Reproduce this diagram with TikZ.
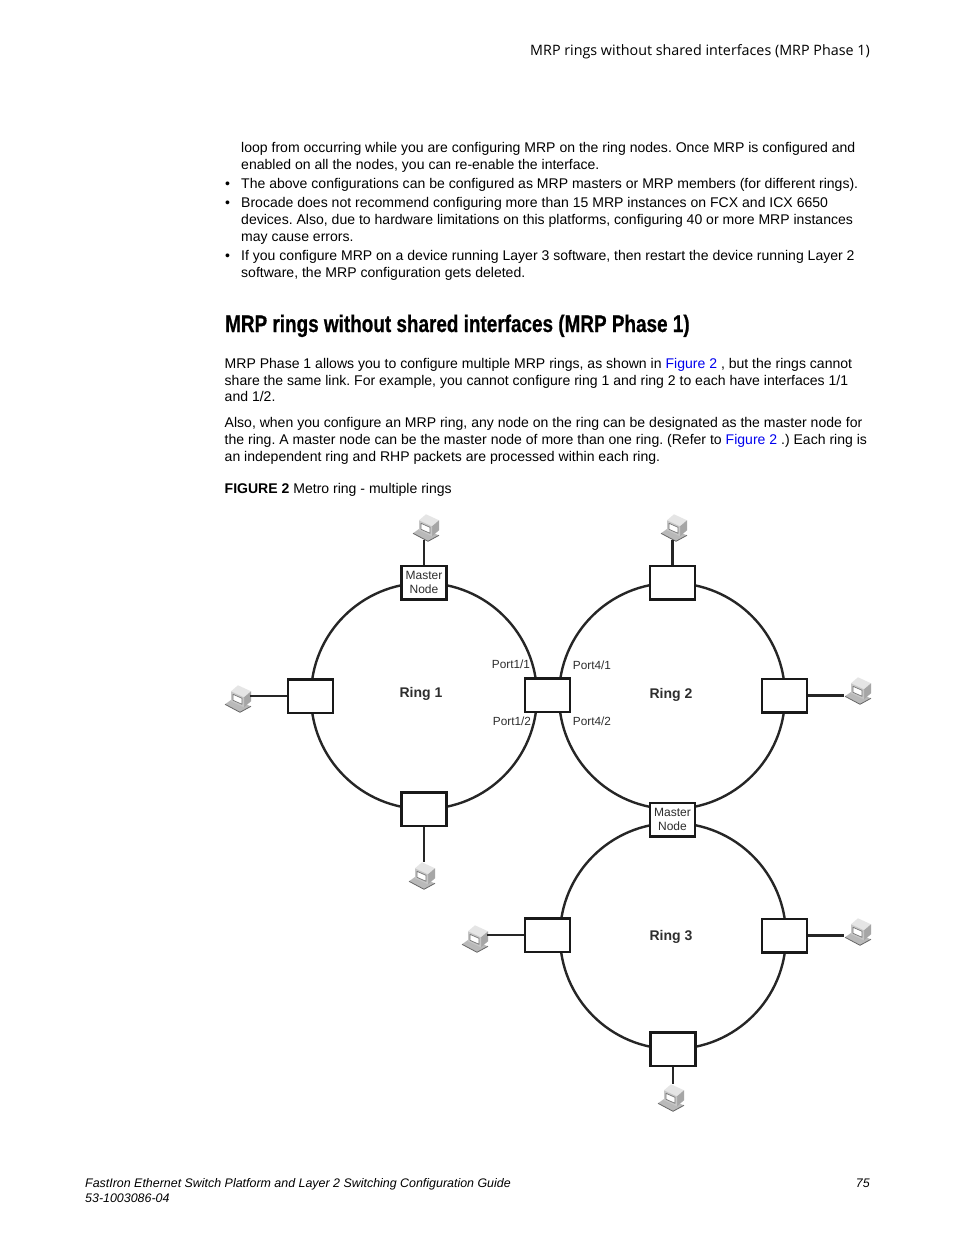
\documentclass[tikz,border=0pt]{standalone}
\usepackage{fontspec}
\setmainfont{Liberation Sans}
\newfontfamily\headfont{Open Sans}
\newfontfamily\titlefont[BoldFont={Liberation Sans Bold},BoldFeatures={FakeBold=0.8}]{Liberation Sans}
\definecolor{linkblue}{RGB}{0,0,238}
\definecolor{lbl}{RGB}{45,45,45}
\newsavebox{\pcicon}
\sbox{\pcicon}{\begin{tikzpicture}[x=1pt,y=-1pt,line join=round]
\fill[gray!55] (-14,6) -- (-7,1) -- (12,8) -- (1,14) -- cycle;
\draw[gray!80!black,line width=.8pt] (-14,6) -- (1,14) -- (12,8);
\fill[gray!20] (-8,-7) -- (-1,-13) -- (12,-7) -- (5,-1) -- cycle;
\fill[gray!70] (5,-1) -- (12,-7) -- (12,3) -- (5,9) -- cycle;
\fill[gray!45] (-8,-7) -- (5,-1) -- (5,9) -- (-8,3) -- cycle;
\fill[white,draw=gray!90!black,line width=.7pt] (-6,-4) -- (3,0) -- (3,6) -- (-6,2) -- cycle;
\end{tikzpicture}}
\tikzset{
 bodytext/.style={anchor=base west,inner sep=0pt,font=\fontsize{14.04}{17}\selectfont\frenchspacing},
 headtext/.style={anchor=base east,inner sep=0pt,font=\headfont\fontsize{14.32}{17}\selectfont},
 foottext/.style={anchor=base west,inner sep=0pt,font=\fontsize{12.43}{15}\selectfont\itshape},
 titletext/.style={anchor=base west,inner sep=0pt,font=\titlefont\fontsize{24}{28}\selectfont\bfseries},
 ring/.style={circle,draw=black!85,line width=2.4pt,minimum size=226pt,inner sep=0pt},
 device/.style={rectangle,draw=black!90,fill=white,line width=2.5pt,minimum width=45pt,minimum height=33.5pt,inner sep=0pt,align=center,text=lbl,font=\fontsize{12}{14}\selectfont},
 link/.style={draw=black!85,line width=2.4pt},
 pc/.style={inner sep=0pt},
 ringlabel/.style={inner sep=0pt,text=lbl,font=\fontsize{14}{17}\selectfont\bfseries},
 portlabel/.style={inner sep=0pt,text=lbl,font=\fontsize{11.8}{14}\selectfont},
}
\begin{document}
\begin{tikzpicture}[x=1pt,y=-1pt]
\useasboundingbox[fill=white] (0,0) rectangle (954,1235);
% page text
\node[headtext] (h1) at (870,55) {MRP rings without shared interfaces (MRP Phase 1)};
\node[bodytext] (t1) at (241,152) {loop from occurring while you are configuring MRP on the ring nodes. Once MRP is configured and};
\node[bodytext] (t2) at (241,169) {enabled on all the nodes, you can re-enable the interface.};
\node[bodytext] (b1) at (225,188) {•};
\node[bodytext] (t3) at (241,188) {The above configurations can be configured as MRP masters or MRP members (for different rings).};
\node[bodytext] (b2) at (225,207) {•};
\node[bodytext] (t4) at (241,207) {Brocade does not recommend configuring more than 15 MRP instances on FCX and ICX 6650};
\node[bodytext] (t5) at (241,224) {devices. Also, due to hardware limitations on this platforms, configuring 40 or more MRP instances};
\node[bodytext] (t6) at (241,241) {may cause errors.};
\node[bodytext] (b3) at (225,260) {•};
\node[bodytext] (t7) at (241,260) {If you configure MRP on a device running Layer 3 software, then restart the device running Layer 2};
\node[bodytext] (t8) at (241,277) {software, the MRP configuration gets deleted.};
\node[titletext] (title) at (225,332) {\scalebox{.788}[1]{MRP rings without shared interfaces (MRP Phase 1)}};
\node[bodytext] (p1) at (224.5,368.5) {MRP Phase 1 allows you to configure multiple MRP rings, as shown in \textcolor{linkblue}{Figure 2} , but the rings cannot};
\node[bodytext] (p2) at (224.5,385) {share the same link. For example, you cannot configure ring 1 and ring 2 to each have interfaces 1/1};
\node[bodytext] (p3) at (224.5,401) {and 1/2.};
\node[bodytext] (p4) at (224.5,427) {Also, when you configure an MRP ring, any node on the ring can be designated as the master node for};
\node[bodytext] (p5) at (224.5,444) {the ring. A master node can be the master node of more than one ring. (Refer to \textcolor{linkblue}{Figure 2} .) Each ring is};
\node[bodytext] (p6) at (224.5,461) {an independent ring and RHP packets are processed within each ring.};
\node[bodytext] (cap) at (224.5,493) {\textbf{FIGURE 2} Metro ring - multiple rings};
\node[foottext] (f1) at (85,1187) {FastIron Ethernet Switch Platform and Layer 2 Switching Configuration Guide};
\node[foottext] (f2) at (85,1202) {53-1003086-04};
\node[foottext,anchor=base east] (f3) at (870,1187) {75};
% rings
\node[ring] (r1) at (424,696) {};
\node[ring] (r2) at (672,696) {};
\node[ring] (r3) at (673,936) {};
\node[ringlabel] (l1) at (421,693.5) {Ring 1};
\node[ringlabel] (l2) at (671,695) {Ring 2};
\node[ringlabel] (l3) at (671,936.5) {Ring 3};
% devices
\node[device] (m1) at (424,582.5) {Master\\Node};
\node[device] (a1) at (310.5,696) {};
\node[device] (c)  at (547.5,695) {};
\node[device] (a2) at (424,809) {};
\node[device] (b4) at (672.5,582.5) {};
\node[device] (b5) at (784.5,695.5) {};
\node[device] (m2) at (672.5,819.5) {Master\\Node};
\node[device] (d1) at (547.5,935) {};
\node[device] (d2) at (784.5,935.5) {};
\node[device] (d3) at (673,1049) {};
\node[portlabel] (q1) at (511,664.5) {Port1/1};
\node[portlabel] (q2) at (512,721.5) {Port1/2};
\node[portlabel] (q3) at (592,665) {Port4/1};
\node[portlabel] (q4) at (592,721) {Port4/2};
% hosts
\node[pc] (pc1) at (426,528) {\usebox\pcicon};
\node[pc] (pc2) at (674,528) {\usebox\pcicon};
\node[pc] (pc3) at (238,699) {\usebox\pcicon};
\node[pc] (pc4) at (422,876) {\usebox\pcicon};
\node[pc] (pc5) at (858,691) {\usebox\pcicon};
\node[pc] (pc6) at (475,939) {\usebox\pcicon};
\node[pc] (pc7) at (858,932) {\usebox\pcicon};
\node[pc] (pc8) at (671,1098) {\usebox\pcicon};
\draw[link,shorten <=-2pt] (m1.north |- pc1.south) -- (m1.north);
\draw[link,shorten <=-2pt] (b4.north |- pc2.south) -- (b4.north);
\draw[link,shorten <=-2pt] (pc3.east |- a1.west) -- (a1.west);
\draw[link] (a2.south) -- (a2.south |- pc4.north);
\draw[link] (b5.east) -- (b5.east -| pc5.west);
\draw[link,shorten <=-2pt] (pc6.east |- d1.west) -- (d1.west);
\draw[link] (d2.east) -- (d2.east -| pc7.west);
\draw[link] (d3.south) -- (d3.south |- pc8.north);
\end{tikzpicture}
\end{document}
